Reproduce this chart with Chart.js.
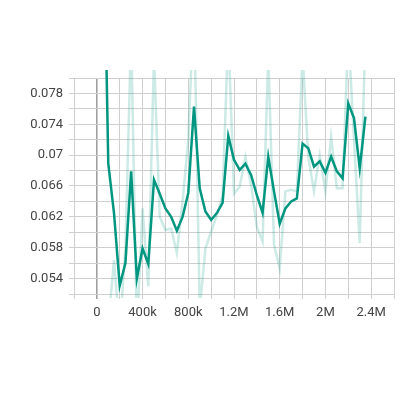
<!DOCTYPE html>
<html>
<head>
<meta charset="utf-8">
<script src="https://cdn.jsdelivr.net/npm/chart.js@4/dist/chart.umd.min.js"></script>
<style>
html,body{margin:0;padding:0;background:#fff;}
#wrap{width:400px;height:400px;position:relative;}
</style>
</head>
<body>
<div id="wrap"><canvas id="c" width="400" height="400"></canvas></div>
<script>
// Steps (x values)
const steps = [50000,100000,150000,200000,250000,300000,350000,400000,450000,500000,
  550000,600000,650000,700000,750000,800000,850000,900000,950000,1000000,
  1050000,1100000,1150000,1200000,1250000,1300000,1350000,1400000,1450000,1500000,
  1550000,1600000,1650000,1700000,1750000,1800000,1850000,1900000,1950000,2000000,
  2050000,2100000,2150000,2200000,2250000,2300000,2350000];

// Smoothed series (dark line)
const smoothed = [0.109,0.0689,0.0625,0.0531,0.0560,0.0679,0.0540,0.0579,0.0559,0.0668,
  0.0650,0.0631,0.0620,0.0602,0.0620,0.0651,0.0763,0.0657,0.0627,0.0616,
  0.0625,0.0638,0.0725,0.0694,0.0681,0.0689,0.0674,0.0648,0.0625,0.0698,
  0.0653,0.0611,0.0631,0.0640,0.0644,0.0715,0.0709,0.0685,0.0692,0.0677,
  0.0698,0.0679,0.0670,0.0767,0.0748,0.0683,0.0750];

// Raw series (faded line); first value not visible in the picture
const raw = [null,0.0480,0.0564,0.0470,0.0580,0.0860,0.0470,0.0631,0.0530,0.0830,
  0.0620,0.0603,0.0605,0.0573,0.0640,0.0720,0.0900,0.0500,0.0579,0.0601,
  0.0622,0.0648,0.0860,0.0650,0.0659,0.0698,0.0661,0.0607,0.0588,0.0830,
  0.0584,0.0553,0.0653,0.0655,0.0653,0.0830,0.0698,0.0653,0.0700,0.0653,
  0.0724,0.0657,0.0657,0.0860,0.0720,0.0586,0.0860];

// Axis ticks
const xTickLabels = ["0","400k","800k","1.2M","1.6M","2M","2.4M"];
const yTickLabels = ["0.054","0.058","0.062","0.066","0.07","0.074","0.078"];

const toPts = (xs, ys) => xs.map((x, i) => ({x: x, y: ys[i]}));

function xLabel(v) {
  const k = Math.round(v / 200000);
  if (k < 0 || k % 2 !== 0) return '';
  const idx = k / 2;
  return idx < xTickLabels.length ? xTickLabels[idx] : '';
}
function yLabel(v) {
  const k = Math.round((v - 0.052) / 0.002);
  if (k % 2 !== 1) return '';
  const idx = (k - 1) / 2;
  return idx < yTickLabels.length ? yTickLabels[idx] : '';
}

new Chart(document.getElementById('c'), {
  type: 'line',
  data: {
    datasets: [
      {
        data: toPts(steps, smoothed),
        borderColor: 'rgb(0,150,128)',
        borderWidth: 2.5,
        pointRadius: 0,
        tension: 0,
        order: 0,
        clip: {left: 0, top: 8, right: 0, bottom: 4}
      },
      {
        data: toPts(steps, raw),
        borderColor: 'rgba(0,150,128,0.2)',
        borderWidth: 2.5,
        pointRadius: 0,
        tension: 0,
        spanGaps: false,
        order: 1,
        clip: {left: 0, top: 8, right: 0, bottom: 4}
      }
    ]
  },
  options: {
    responsive: false,
    animation: false,
    devicePixelRatio: 1,
    layout: {padding: {top: 78, right: 2, bottom: 76, left: 0}},
    plugins: {legend: {display: false}, tooltip: {enabled: false}},
    scales: {
      x: {
        type: 'linear',
        min: -200000,
        max: 2600000,
        afterBuildTicks: s => {
          const t = [];
          for (let k = -1; k <= 13; k++) t.push({value: k * 200000});
          s.ticks = t;
        },
        afterFit: s => { s.height = 30; },
        ticks: {
          autoSkip: false,
          maxRotation: 0,
          padding: 6,
          color: '#444',
          font: {family: 'Roboto', size: 13},
          callback: v => xLabel(v)
        },
        grid: {
          color: ctx => (ctx.tick && ctx.tick.value === 0) ? '#a0a0a0' : '#cfcfcf',
          lineWidth: ctx => (ctx.tick && ctx.tick.value === 0) ? 1.6 : 1,
          tickLength: 5
        },
        border: {display: false}
      },
      y: {
        min: 0.052,
        max: 0.080,
        afterBuildTicks: s => {
          const t = [];
          for (let k = 0; k <= 14; k++) t.push({value: 0.052 + k * 0.002});
          s.ticks = t;
        },
        afterFit: s => { s.width = 74; },
        ticks: {
          autoSkip: false,
          padding: 6,
          color: '#444',
          font: {family: 'Roboto', size: 13},
          callback: v => yLabel(v)
        },
        grid: {color: '#cfcfcf', lineWidth: 1, tickLength: 5},
        border: {display: false}
      }
    }
  }
});
</script>
</body>
</html>
